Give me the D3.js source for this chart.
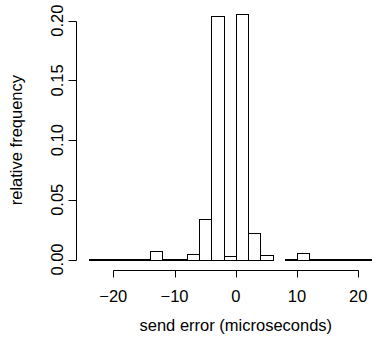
<!DOCTYPE html>
<html>
<head>
<meta charset="utf-8">
<script src="https://cdn.jsdelivr.net/npm/d3@7"></script>
<style>
  body { margin: 0; background: #fff; }
  svg { display: block; }
  text { font-family: "Liberation Sans", Arial, sans-serif; font-size: 16.5px; fill: #000; }
</style>
</head>
<body>
<svg width="378" height="344"></svg>
<script>
var width = 378,
    height = 344,
    axisY = 270.5,
    axisX = 76.5;

// histogram bins (microseconds), width 2
var binEdges = d3.range(-24, 24, 2);
var relFreq = [0.0004, 0.0002, 0.0006, 0.0001, 0.0004, 0.0070, 0.0006, 0.0003,
               0.0048, 0.0336, 0.2036, 0.0030, 0.2058, 0.0225, 0.0040, 0.0000,
               0.0008, 0.0058, 0.0008, 0.0002, 0.0003, 0.0002, 0.0003];
var xTicks = [-20, -10, 0, 10, 20];
var yTicks = [0, 0.05, 0.10, 0.15, 0.20];

var bins = relFreq.map(function(v, i) { return {x0: binEdges[i], x1: binEdges[i] + 2, y: v}; });

var x = d3.scaleLinear().domain([-20, 20]).range([113.3, 358.3]);
var y = d3.scaleLinear().domain([0, 0.2]).range([259.5, 20.7]);

var svg = d3.select("svg");

// zero-count bins are not drawn (gap in the baseline, as in R)
svg.append("g").selectAll("rect")
    .data(bins.filter(function(d) { return d.y > 0; }))
  .enter().append("rect")
    .attr("x", function(d) { return Math.round(x(d.x0)) + 0.5; })
    .attr("width", function(d) { return Math.round(x(d.x1)) - Math.round(x(d.x0)); })
    .attr("y", function(d) { return Math.min(Math.round(y(d.y)), Math.round(y(0)) - 1) + 0.5; })
    .attr("height", function(d) { return Math.max(Math.round(y(0)) - Math.round(y(d.y)), 1); })
    .attr("fill", "#fff")
    .attr("stroke", "#000")
    .attr("stroke-width", 1);

// x axis
var xAxis = svg.append("g").attr("transform", "translate(0," + axisY + ")");
xAxis.append("line")
    .attr("x1", Math.round(x(-20)) + 0.5).attr("x2", Math.round(x(20)) + 0.5)
    .attr("stroke", "#000");
xAxis.selectAll(".tick")
    .data(xTicks)
  .enter().append("line")
    .attr("x1", function(d) { return Math.round(x(d)) + 0.5; })
    .attr("x2", function(d) { return Math.round(x(d)) + 0.5; })
    .attr("y1", 0).attr("y2", 7)
    .attr("stroke", "#000");
xAxis.selectAll(".lab")
    .data(xTicks)
  .enter().append("text")
    .attr("x", function(d) { return x(d); })
    .attr("y", 31)
    .attr("text-anchor", "middle")
    .text(function(d) { return d < 0 ? "\u2212" + Math.abs(d) : d; });

// y axis
var yAxis = svg.append("g").attr("transform", "translate(" + axisX + ",0)");
yAxis.append("line")
    .attr("y1", Math.round(y(0)) + 0.5).attr("y2", Math.round(y(0.2)) + 0.5)
    .attr("stroke", "#000");
yAxis.selectAll(".tick")
    .data(yTicks)
  .enter().append("line")
    .attr("y1", function(d) { return Math.round(y(d)) + 0.5; })
    .attr("y2", function(d) { return Math.round(y(d)) + 0.5; })
    .attr("x1", 0).attr("x2", -8)
    .attr("stroke", "#000");
yAxis.selectAll(".lab")
    .data(yTicks)
  .enter().append("text")
    .attr("transform", function(d) { return "translate(-14," + y(d) + ")rotate(-90)"; })
    .attr("text-anchor", "middle")
    .text(function(d) { return d3.format(".2f")(d); });

svg.append("text")
    .attr("transform", "translate(22," + y(0.1) + ")rotate(-90)")
    .attr("text-anchor", "middle")
    .text("relative frequency");

svg.append("text")
    .attr("x", x(0))
    .attr("y", 331)
    .attr("text-anchor", "middle")
    .text("send error (microseconds)");
</script>
</body>
</html>
